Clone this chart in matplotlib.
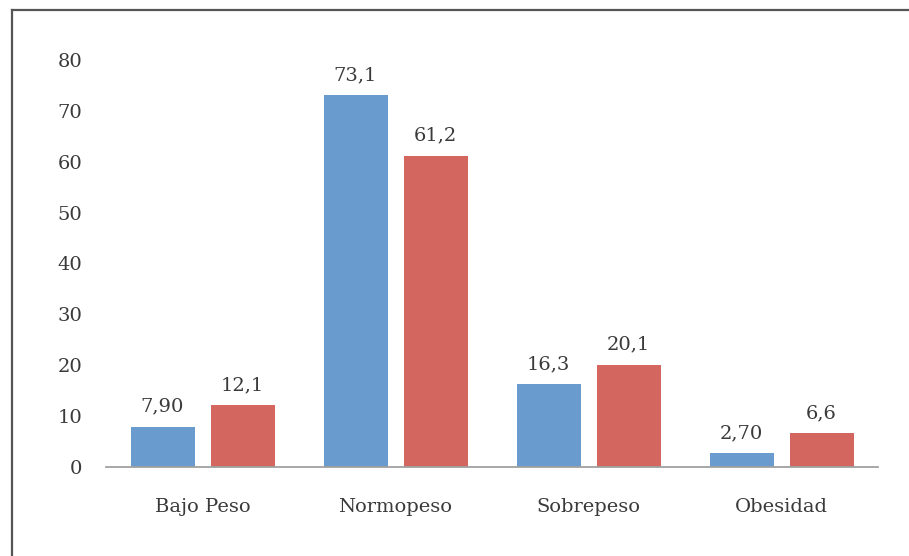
import matplotlib
matplotlib.use("Agg")
import matplotlib.pyplot as plt
import numpy as np
from matplotlib.lines import Line2D

categories = ["Bajo Peso", "Normopeso", "Sobrepeso", "Obesidad"]
serie1 = [7.90, 73.1, 16.3, 2.70]
serie2 = [12.1, 61.2, 20.1, 6.6]
labels1 = ["7,90", "73,1", "16,3", "2,70"]
labels2 = ["12,1", "61,2", "20,1", "6,6"]
yticks = [0, 10, 20, 30, 40, 50, 60, 70, 80]

W, H = 909, 556
fig = plt.figure(figsize=(W/100, H/100), dpi=100)
plt.rcParams['font.family'] = ['DejaVu Serif']

# frame lines (top and left, rest cropped)
fig.add_artist(Line2D([12/W, 12/W], [0, 1 - 10/H], transform=fig.transFigure, color="#555555", lw=1.6))
fig.add_artist(Line2D([12/W, 1], [1 - 10/H, 1 - 10/H], transform=fig.transFigure, color="#555555", lw=1.6))

left, right, bottom, top = 106, 878, 467, 60
ax = fig.add_axes([left/W, (H-bottom)/H, (right-left)/W, (bottom-top)/H])

x = np.arange(len(categories))
bw = 64/193
off = 40/193
c1 = "#6A9BCF"
c2 = "#D3675F"
b1 = ax.bar(x - off, serie1, bw, color=c1)
b2 = ax.bar(x + off, serie2, bw, color=c2)

for bars, labs in ((b1, labels1), (b2, labels2)):
    for r, lab in zip(bars, labs):
        ax.annotate(lab, (r.get_x() + r.get_width()/2, r.get_height()),
                    xytext=(0, 8), textcoords="offset points",
                    ha="center", va="bottom", fontsize=14, color="#3A3A3A")

ax.set_xlim(-0.5, len(categories) - 0.5)
ax.set_ylim(0, 80)
ax.set_yticks(yticks)
ax.set_yticklabels([str(v) for v in yticks])
ax.set_xticks(x)
ax.set_xticklabels(categories)
for s in ("top", "right", "left"):
    ax.spines[s].set_visible(False)
ax.spines["bottom"].set_color("#A0A0A0")
ax.spines["bottom"].set_linewidth(1.3)
ax.tick_params(axis="y", length=0, pad=17, labelsize=14, labelcolor="#3A3A3A")
ax.tick_params(axis="x", length=0, pad=22, labelsize=14, labelcolor="#3A3A3A")

fig.savefig("out.png", dpi=100)
